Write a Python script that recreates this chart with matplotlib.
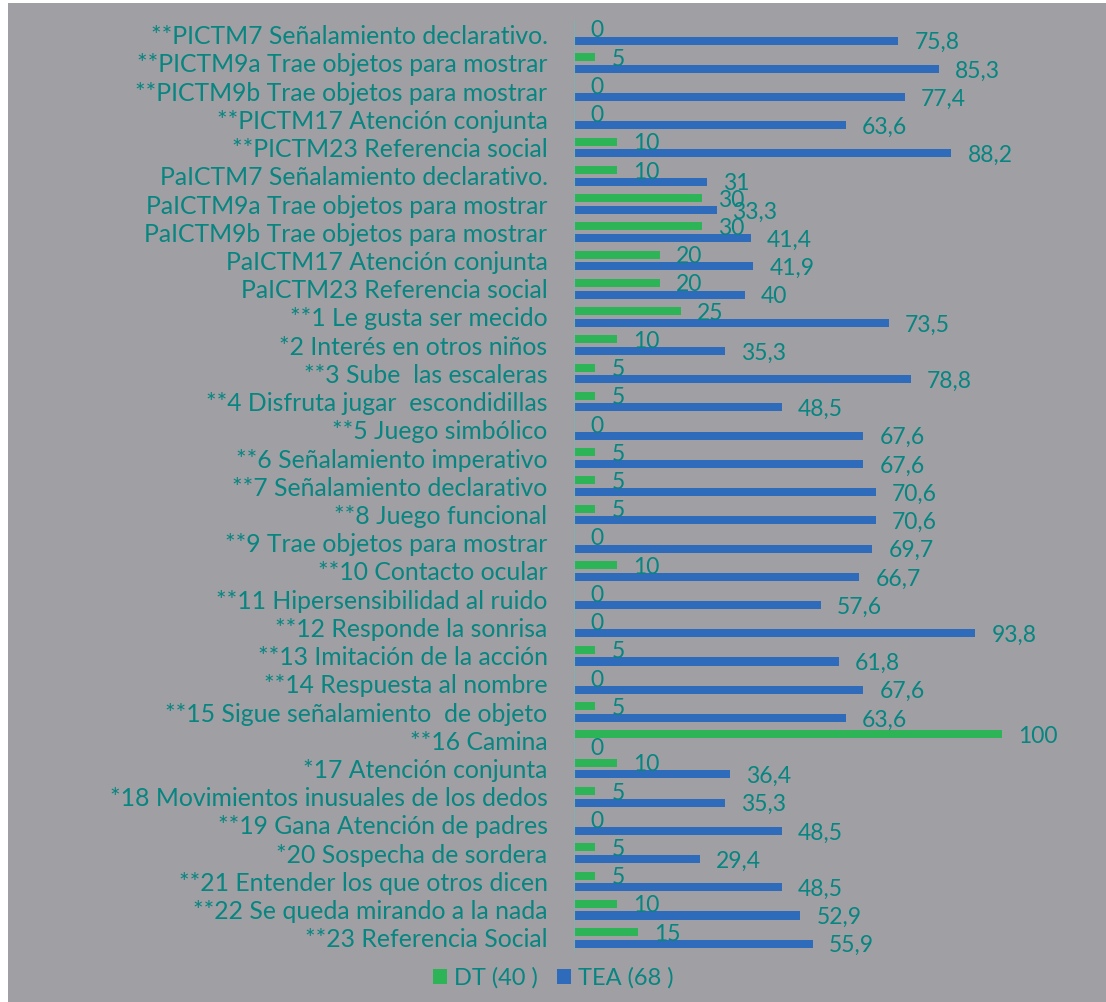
import matplotlib
matplotlib.use('Agg')
import matplotlib.pyplot as plt
from matplotlib.patches import Patch, Rectangle
import numpy as np

# Items of the checklist, top to bottom
categories = [
    '**PICTM7 Señalamiento declarativo.',
    '**PICTM9a Trae objetos para mostrar',
    '**PICTM9b Trae objetos para mostrar',
    '**PICTM17 Atención conjunta',
    '**PICTM23 Referencia social',
    'PaICTM7 Señalamiento declarativo.',
    'PaICTM9a Trae objetos para mostrar',
    'PaICTM9b Trae objetos para mostrar',
    'PaICTM17 Atención conjunta',
    'PaICTM23 Referencia social',
    '**1 Le gusta ser mecido',
    '*2 Interés en otros niños',
    '**3 Sube  las escaleras',
    '**4 Disfruta jugar  escondidillas',
    '**5 Juego simbólico',
    '**6 Señalamiento imperativo',
    '**7 Señalamiento declarativo',
    '**8 Juego funcional',
    '**9 Trae objetos para mostrar',
    '**10 Contacto ocular',
    '**11 Hipersensibilidad al ruido',
    '**12 Responde la sonrisa',
    '**13 Imitación de la acción',
    '**14 Respuesta al nombre',
    '**15 Sigue señalamiento  de objeto',
    '**16 Camina',
    '*17 Atención conjunta',
    '*18 Movimientos inusuales de los dedos',
    '**19 Gana Atención de padres',
    '*20 Sospecha de sordera',
    '**21 Entender los que otros dicen',
    '**22 Se queda mirando a la nada',
    '**23 Referencia Social',
]

dt_values = [0, 5, 0, 0, 10, 10, 30, 30, 20, 20, 25, 10, 5, 5, 0, 5, 5, 5, 0, 10,
             0, 0, 5, 0, 5, 100, 10, 5, 0, 5, 5, 10, 15]
tea_values = [75.8, 85.3, 77.4, 63.6, 88.2, 31, 33.3, 41.4, 41.9, 40, 73.5, 35.3,
              78.8, 48.5, 67.6, 67.6, 70.6, 70.6, 69.7, 66.7, 57.6, 93.8, 61.8,
              67.6, 63.6, 0, 36.4, 35.3, 48.5, 29.4, 48.5, 52.9, 55.9]

series_names = ['DT (40 )', 'TEA (68 )']

bg = '#a09fa4'
green = '#2cb456'
blue = '#2e6bbb'
teal = '#078580'
font = 'Lato'


def fmt(v):
    if float(v).is_integer():
        return str(int(v))
    return f'{v:.1f}'.replace('.', ',')


W, H = 1106, 1002
fig = plt.figure(figsize=(W / 100, H / 100), dpi=100, facecolor=bg)
# thin white strips along the left and top edges
fig.patches.append(Rectangle((0, 0), 8 / W, 1, transform=fig.transFigure,
                             facecolor='white', edgecolor='none'))
fig.patches.append(Rectangle((0, 1 - 3 / H), 1, 3 / H, transform=fig.transFigure,
                             facecolor='white', edgecolor='none'))

ax = fig.add_axes([574 / W, 1 - 952 / H, (1002 - 574) / W, (952 - 20.6) / H])
ax.set_facecolor('none')

y = np.arange(len(categories))
bar_h = 0.285
off = 0.207
ax.barh(y - off, dt_values, height=bar_h, color=green, label=series_names[0])
ax.barh(y + off, tea_values, height=bar_h, color=blue, label=series_names[1])

for yi, v in zip(y, dt_values):
    ax.annotate(fmt(v), (v, yi - off), xytext=(11.5, -1.5), textcoords='offset points',
                ha='left', va='center', color=teal, fontsize=16.5, family=font,
                annotation_clip=False)
for yi, v in zip(y, tea_values):
    ax.annotate(fmt(v), (v, yi + off), xytext=(11.5, -1.5), textcoords='offset points',
                ha='left', va='center', color=teal, fontsize=16.5, family=font,
                annotation_clip=False)

ax.set_xlim(0, 100)
ax.set_ylim(len(categories) - 0.5, -0.5)
ax.set_yticks(y)
ax.set_yticklabels(categories, color=teal, fontsize=17.8, family=font)
ax.tick_params(axis='y', length=0, pad=19)
ax.set_xticks([])
for s in ['top', 'right', 'bottom']:
    ax.spines[s].set_visible(False)
ax.spines['left'].set_color('#86b0ae')
ax.spines['left'].set_linewidth(0.8)

handles = [Patch(facecolor=green, label=series_names[0]),
           Patch(facecolor=blue, label=series_names[1])]
leg = fig.legend(handles=handles, loc='center', bbox_to_anchor=(553 / W, 1 - 978 / H),
                 ncol=2, frameon=False, handlelength=0.6, handleheight=0.6,
                 handletextpad=0.3, columnspacing=0.8,
                 prop={'family': font, 'size': 17})
for t in leg.get_texts():
    t.set_color(teal)

fig.savefig('out.png', dpi=100, facecolor=bg)
